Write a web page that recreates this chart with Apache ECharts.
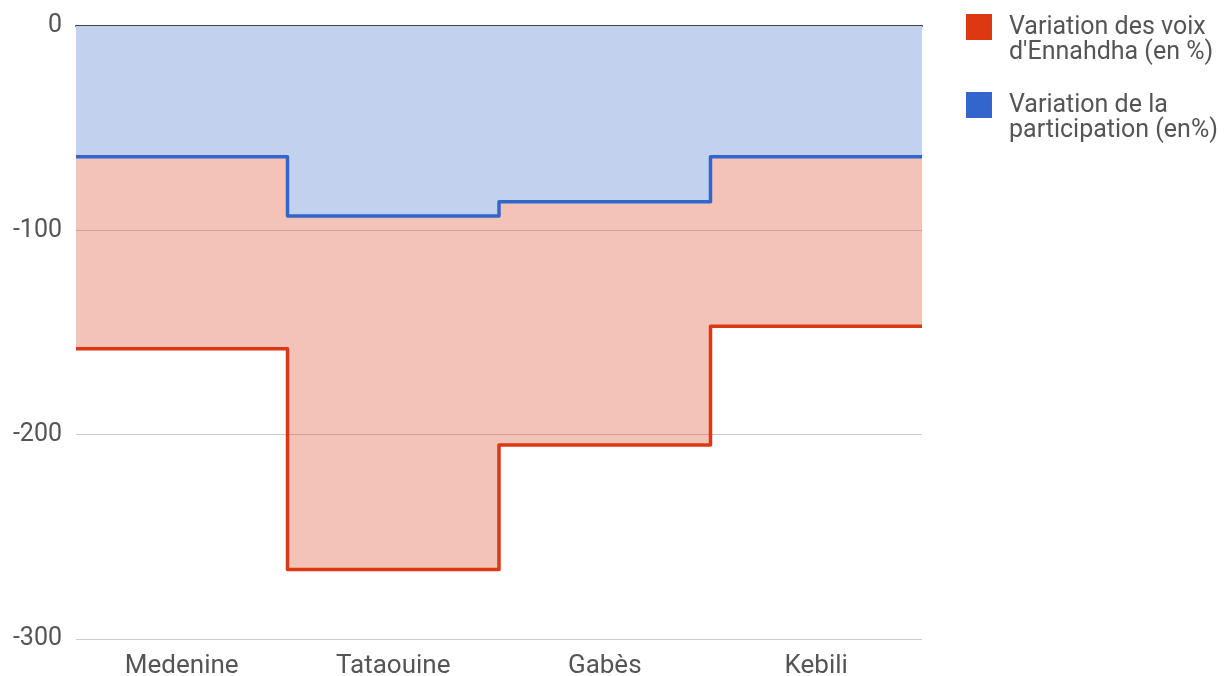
<!DOCTYPE html>
<html>
<head>
<meta charset="utf-8">
<script src="https://cdn.jsdelivr.net/npm/echarts@6/dist/echarts.min.js"></script>
<style>
  html, body { margin: 0; padding: 0; background: #fff; }
  #chart { width: 1231px; height: 676px; }
</style>
</head>
<body>
<div id="chart"></div>
<script>
const categories = ['Medenine', 'Tataouine', 'Gabès', 'Kebili']
const ennahdha = [-158, -266, -205, -147]
const participation = [-64, -93, -86, -64]
const yTicks = [-300, -200, -100, 0]

const seriesNames = ["Variation des voix\nd'Ennahdha (en %)", 'Variation de la\nparticipation (en%)']

// step points: one per category, plus a closing point at the right edge
function steps(values) {
  const pts = values.map((v, i) => [i, v])
  pts.push([values.length, values[values.length - 1]])
  return pts
}

const chart = echarts.init(document.getElementById('chart'))

// legend icon: square in the top half so it sits on the first text line
const legendIcon = 'path://M0,0h10v10h-10z M0,20h0.01v0.01h-0.01z'

chart.setOption({
  animation: false,
  grid: { left: 76, right: 309, top: 26, bottom: 37, outerBoundsMode: 'none' },
  legend: {
    orient: 'vertical',
    left: 966,
    top: 13,
    padding: 0,
    itemWidth: 26,
    itemHeight: 52,
    itemGap: 24,
    icon: legendIcon,
    data: seriesNames,
    textStyle: {
      fontFamily: 'Roboto',
      fontSize: 25,
      lineHeight: 25,
      color: '#555',
      padding: [4, 0, 0, 12],
    },
  },
  xAxis: [
    {
      type: 'category',
      data: categories,
      boundaryGap: true,
      axisLine: { show: false },
      axisTick: { show: false },
      axisLabel: { fontFamily: 'Roboto', fontSize: 26, color: '#555', margin: 14 },
    },
    {
      type: 'value',
      min: 0,
      max: categories.length,
      position: 'top',
      axisLine: { show: true, onZero: false, lineStyle: { color: '#444', width: 2 } },
      axisTick: { show: false },
      axisLabel: { show: false },
      splitLine: { show: false },
    },
  ],
  yAxis: {
    type: 'value',
    min: yTicks[0],
    max: yTicks[yTicks.length - 1],
    interval: 100,
    axisLine: { show: false },
    axisTick: { show: false },
    axisLabel: { fontFamily: 'Roboto', fontSize: 25, color: '#555', margin: 14 },
    splitLine: { lineStyle: { color: '#ccc', width: 1 } },
  },
  series: [
    {
      name: seriesNames[0],
      type: 'line',
      xAxisIndex: 1,
      step: 'end',
      data: steps(ennahdha),
      symbol: 'none',
      color: '#dc3912',
      lineStyle: { color: '#dc3912', width: 3.5, join: 'round' },
      areaStyle: { color: '#dc3912', opacity: 0.3 },
      z: 2,
    },
    {
      name: seriesNames[1],
      type: 'line',
      xAxisIndex: 1,
      step: 'end',
      data: steps(participation),
      symbol: 'none',
      color: '#3366cc',
      lineStyle: { color: '#3366cc', width: 3.5, join: 'round' },
      areaStyle: { color: '#c2d1ee', opacity: 1 },
      z: 3,
    },
  ],
})
</script>
</body>
</html>
